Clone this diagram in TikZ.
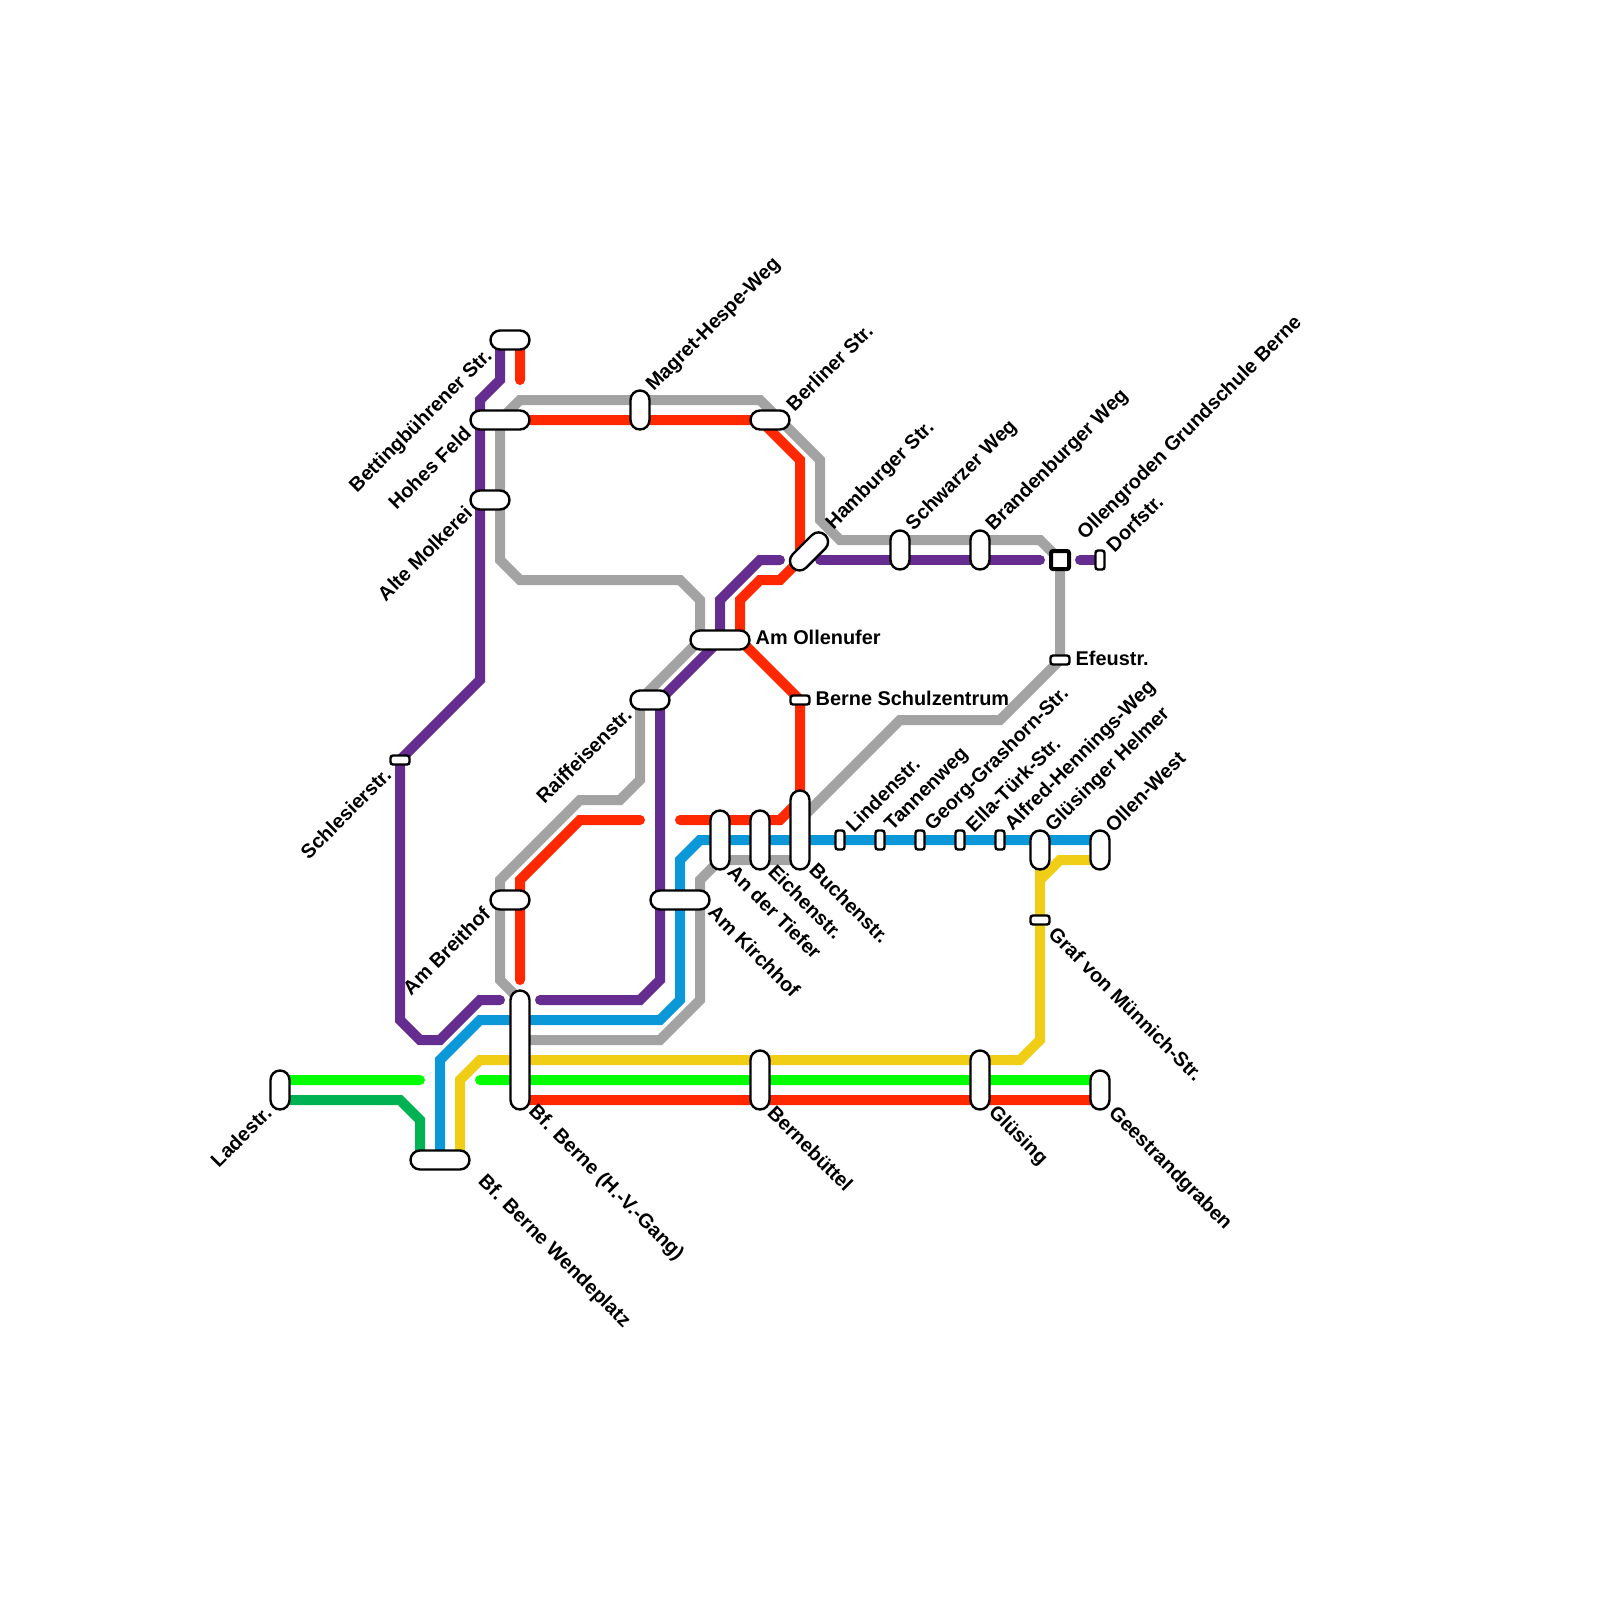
\documentclass[tikz,border=0pt]{standalone}
\usepackage{fontspec}
\setmainfont{Liberation Sans}
\definecolor{lnpurple}{RGB}{102,45,145}
\definecolor{lnred}{RGB}{255,40,0}
\definecolor{lngray}{RGB}{163,163,163}
\definecolor{lnblue}{RGB}{10,152,216}
\definecolor{lnyellow}{RGB}{240,206,21}
\definecolor{lngreen}{RGB}{0,255,0}
\definecolor{lndark}{RGB}{0,178,81}
\usetikzlibrary{backgrounds}
\tikzset{
  track/.style={line width=1mm,line cap=round,color=#1},
  pill/.style 2 args={draw=black,fill=white,line width=0.24mm,rounded corners=0.95mm,inner sep=0pt,outer sep=0pt,minimum width=#1mm,minimum height=#2mm},
  tick/.style 2 args={draw=black,fill=white,line width=0.24mm,rounded corners=0.25mm,inner sep=0pt,outer sep=0pt,minimum width=#1mm,minimum height=#2mm},
  hub/.style={draw=black,fill=white,line width=0.4mm,rounded corners=0.2mm,inner sep=0pt,outer sep=0pt,minimum size=1.8mm},
  lblfont/.style={inner sep=0pt,font=\fontsize{5.66pt}{7pt}\selectfont\bfseries},
  lblup/.style={lblfont,anchor=west,rotate=45},
  lbldown/.style={lblfont,anchor=west,rotate=-45},
  lblback/.style={lblfont,anchor=east,rotate=45},
  lblflat/.style={lblfont,anchor=west}
}

\begin{document}
\begin{tikzpicture}[x=0.2cm,y=-0.2cm]
  \useasboundingbox (0,0) rectangle (80,80);

  % stations
  \node[pill={3.9}{1.9}] (bett) at (25.5,17) {};
  \node[pill={5.9}{1.9}] (hohes) at (25,21) {};
  \node[pill={3.9}{1.9}] (molk) at (24.5,25) {};
  \node[pill={1.9}{3.9}] (magret) at (32,20.5) {};
  \node[pill={3.9}{1.9}] (berl) at (38.5,21) {};
  \node[pill={4.6}{1.9},rotate=45] (hamb) at (40.45,27.57) {};
  \node[pill={1.9}{3.9}] (schw) at (45,27.5) {};
  \node[pill={1.9}{3.9}] (brand) at (49,27.5) {};
  \node[hub] (grund) at (53,28) {};
  \node[tick={0.9}{1.9}] (dorf) at (55,28) {};
  \node[tick={1.9}{0.9}] (efeu) at (53,33) {};
  \node[pill={5.9}{1.9}] (ollen) at (36,32) {};
  \node[tick={1.9}{0.9}] (schul) at (40,35) {};
  \node[pill={3.9}{1.9}] (raiff) at (32.5,35) {};
  \node[tick={1.9}{0.9}] (schles) at (20,38) {};
  \node[pill={1.9}{5.9}] (tiefer) at (36,42) {};
  \node[pill={1.9}{5.9}] (eichen) at (38,42) {};
  \node[pill={1.9}{7.9}] (buchen) at (40,41.5) {};
  \node[tick={0.9}{1.9}] (linden) at (42,42) {};
  \node[tick={0.9}{1.9}] (tannen) at (44,42) {};
  \node[tick={0.9}{1.9}] (georg) at (46,42) {};
  \node[tick={0.9}{1.9}] (ella) at (48,42) {};
  \node[tick={0.9}{1.9}] (alfred) at (50,42) {};
  \node[pill={1.9}{3.9}] (helmer) at (52,42.5) {};
  \node[pill={1.9}{3.9}] (ollwest) at (55,42.5) {};
  \node[tick={1.9}{0.9}] (graf) at (52,46) {};
  \node[pill={5.9}{1.9}] (kirch) at (34,45) {};
  \node[pill={3.9}{1.9}] (breit) at (25.5,45) {};
  \node[pill={1.9}{11.9}] (bfhvg) at (26,52.5) {};
  \node[pill={5.9}{1.9}] (wende) at (22,58) {};
  \node[pill={1.9}{5.9}] (buettel) at (38,54) {};
  \node[pill={1.9}{5.9}] (gluesing) at (49,54) {};
  \node[pill={1.9}{3.9}] (gees) at (55,54.5) {};
  \node[pill={1.9}{3.9}] (lade) at (14,54.5) {};

  % free line ends
  \coordinate (redtop) at (26,19);
  \coordinate (redgapr) at (34,41);
  \coordinate (redgapl) at (32,41);
  \coordinate (redlow) at (26,49);
  \coordinate (purpa) at (25,50);
  \coordinate (purpb) at (27,50);
  \coordinate (purpc) at (39,28);
  \coordinate (purpd) at (41,28);
  \coordinate (purpe) at (52,28);
  \coordinate (purpf) at (54,28);
  \coordinate (greena) at (21,54);
  \coordinate (greenb) at (24,54);

  % lines
  \begin{scope}[on background layer]
    \draw[track=lngray] (hohes.center) -- (25,28) -- (26,29) -- (34,29) -- (35,30) -- ([xshift=-2mm]ollen.center) -- (32,35) -- (32,39) -- (31,40) -- (29,40) -- (25,44) -- (25,49) -- ([yshift=5mm]bfhvg.center);
    \draw[track=lngray] (hohes.center) -- (26,20) -- (38,20) -- (41,23) -- (41,26) -- (42,27) -- (52,27) -- (grund.center) -- (efeu.center) -- (50,36) -- (45,36) -- (40,41) -- (buchen.center);
    \draw[track=lngray] ([yshift=-3mm]buchen.center) -- (36,43) -- (35,44) -- (35,50) -- (33,52) -- ([yshift=1mm]bfhvg.center);
    \draw[track=lnblue] (wende.center) -- (22,53) -- (24,51) -- (33,51) -- (34,50) -- (34,43) -- (35,42) -- ([yshift=1mm]ollwest.center);
    \draw[track=lnyellow] ([xshift=2mm]wende.center) -- (23,54) -- (24,53) -- (51,53) -- (52,52) -- (helmer.center);
    \draw[track=lnyellow] ([yshift=-1mm]ollwest.center) -- (53,43) -- (52,44);
    \draw[track=lngreen] ([yshift=1mm]lade.center) -- (greena);
    \draw[track=lngreen] (greenb) -- ([yshift=1mm]gees.center);
    \draw[track=lndark] ([yshift=-1mm]lade.center) -- (20,55) -- (21,56) -- ([xshift=-2mm]wende.center);
    \draw[track=lnred] ([xshift=1mm]bett.center) -- (redtop);
    \draw[track=lnred] (hohes.center) -- (38,21) -- (40,23) -- (40,28) -- (39,29) -- (38,29) -- (37,30) -- ([xshift=2mm]ollen.center) -- (schul.center) -- (40,40) -- (39,41) -- (redgapr);
    \draw[track=lnred] (redgapl) -- (29,41) -- (26,44) -- (redlow);
    \draw[track=lnred] ([yshift=-5mm]bfhvg.center) -- ([yshift=-1mm]gees.center);
    \draw[track=lnpurple] ([xshift=-1mm]bett.center) -- (25,19) -- (24,20) -- (24,34) -- (schles.center) -- (20,51) -- (21,52) -- (22,52) -- (24,50) -- (purpa);
    \draw[track=lnpurple] (purpb) -- (32,50) -- (33,49) -- (33,35) -- (ollen.center) -- (36,30) -- (38,28) -- (purpc);
    \draw[track=lnpurple] (purpd) -- (purpe);
    \draw[track=lnpurple] (purpf) -- (dorf.center);
  \end{scope}

  % labels
  \node[lblback] (lblbett) at (24.5,17.65) {Bettingbührener Str.};
  \node[lblback] (lblhohes) at (23.4,21.48) {Hohes Feld};
  \node[lblback] (lblmolk) at (23.45,25.45) {Alte Molkerei};
  \node[lblback] (lblraiff) at (31.42,35.55) {Raiffeisenstr.};
  \node[lblback] (lblschles) at (19.4,38.55) {Schlesierstr.};
  \node[lblback] (lblbreit) at (24.35,45.5) {Am Breithof};
  \node[lblback] (lbllade) at (13.42,55.45) {Ladestr.};
  \node[lblup] (lblmagret) at (32.5,19.45) {Magret-Hespe-Weg};
  \node[lblup] (lblberl) at (39.45,20.38) {Berliner Str.};
  \node[lblup] (lblhamb) at (41.47,26.35) {Hamburger Str.};
  \node[lblup] (lblschw) at (45.48,26.4) {Schwarzer Weg};
  \node[lblup] (lblbrand) at (49.48,26.42) {Brandenburger Weg};
  \node[lblup] (lblgrund) at (54.05,26.88) {Ollengroden Grundschule Berne};
  \node[lblup] (lbldorf) at (55.45,27.43) {Dorfstr.};
  \node[lblup] (lbllinden) at (42.43,41.43) {Lindenstr.};
  \node[lblup] (lbltannen) at (44.43,41.43) {Tannenweg};
  \node[lblup] (lblgeorg) at (46.43,41.43) {Georg-Grashorn-Str.};
  \node[lblup] (lblella) at (48.43,41.43) {Ella-Türk-Str.};
  \node[lblup] (lblalfred) at (50.43,41.43) {Alfred-Hennings-Weg};
  \node[lblup] (lblhelmer) at (52.45,41.45) {Glüsinger Helmer};
  \node[lblup] (lblollwest) at (55.4,41.43) {Ollen-West};
  \node[lbldown] (lbltiefer) at (36.55,43.42) {An der Tiefer};
  \node[lbldown] (lbleichen) at (38.58,43.4) {Eichenstr.};
  \node[lbldown] (lblbuchen) at (40.63,43.32) {Buchenstr.};
  \node[lbldown] (lblkirch) at (35.58,45.42) {Am Kirchhof};
  \node[lbldown] (lblbfhvg) at (26.55,55.42) {Bf. Berne (H.-V.-Gang)};
  \node[lbldown] (lblwende) at (24.03,58.93) {Bf. Berne Wendeplatz};
  \node[lbldown] (lblbuettel) at (38.55,55.45) {Bernebüttel};
  \node[lbldown] (lblgluesing) at (49.55,55.47) {Glüsing};
  \node[lbldown] (lblgees) at (55.55,55.5) {Geestrandgraben};
  \node[lbldown] (lblgraf) at (52.6,46.5) {Graf von Münnich-Str.};
  \node[lblflat] (lblollen) at (37.75,31.87) {Am Ollenufer};
  \node[lblflat] (lblschul) at (40.75,34.9) {Berne Schulzentrum};
  \node[lblflat] (lblefeu) at (53.75,32.9) {Efeustr.};
\end{tikzpicture}
\end{document}
